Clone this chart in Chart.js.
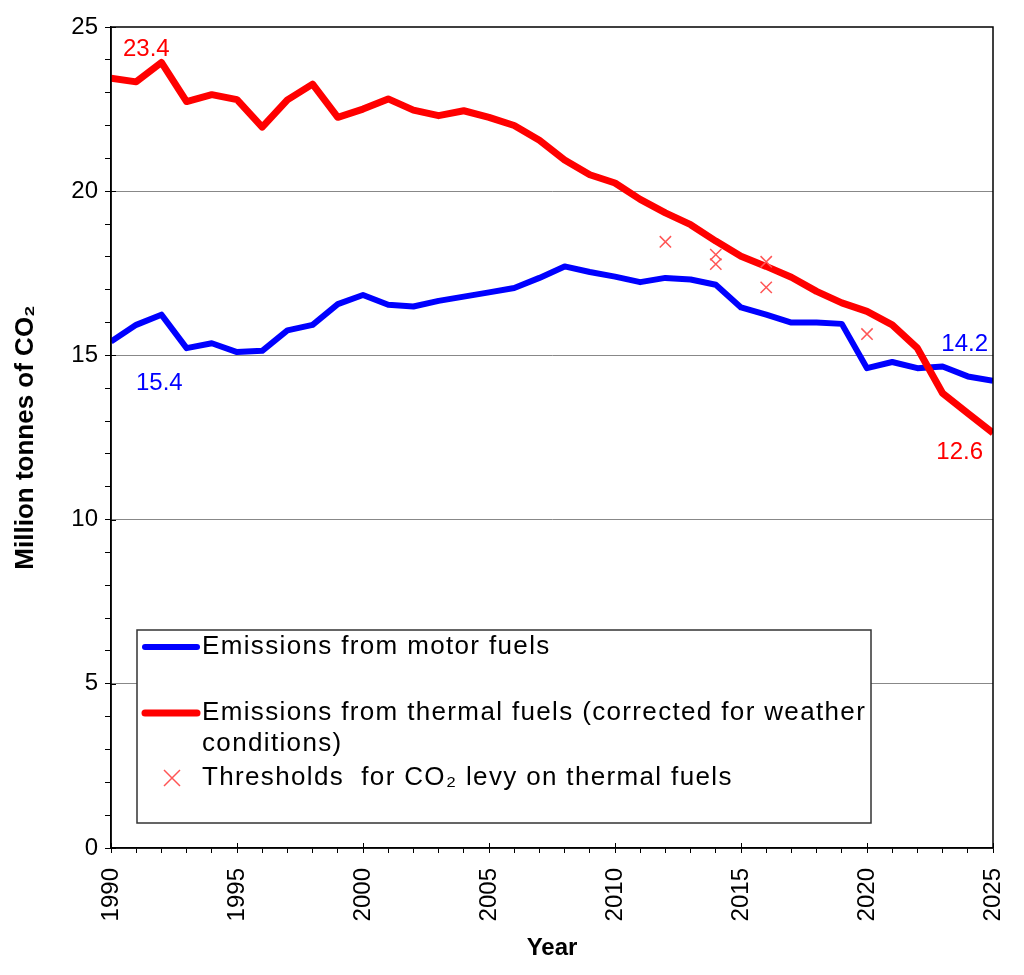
<!DOCTYPE html>
<html>
<head>
<meta charset="utf-8">
<script src="https://cdn.jsdelivr.net/npm/chart.js@4.4.1/dist/chart.umd.min.js"></script>
<style>
  body { margin: 0; background: #fff; }
  #wrap { width: 1024px; height: 975px; }
</style>
</head>
<body>
<div id="wrap"><canvas id="co2Chart" width="1024" height="975"></canvas></div>
<script>
const years = [1990, 1991, 1992, 1993, 1994, 1995, 1996, 1997, 1998, 1999,
  2000, 2001, 2002, 2003, 2004, 2005, 2006, 2007, 2008, 2009,
  2010, 2011, 2012, 2013, 2014, 2015, 2016, 2017, 2018, 2019,
  2020, 2021, 2022, 2023, 2024, 2025];

// motor fuels (blue)
const motorFuels = [15.42, 15.93, 16.24, 15.22, 15.37, 15.10, 15.14, 15.76, 15.93, 16.56,
  16.84, 16.54, 16.49, 16.66, 16.79, 16.92, 17.05, 17.36, 17.71, 17.54,
  17.40, 17.23, 17.36, 17.31, 17.15, 16.46, 16.24, 16.00, 16.00, 15.96,
  14.61, 14.80, 14.61, 14.66, 14.36, 14.23];

// thermal fuels, weather corrected (red)
const thermalFuels = [23.44, 23.33, 23.92, 22.73, 22.94, 22.79, 21.95, 22.78, 23.26, 22.25,
  22.50, 22.81, 22.47, 22.30, 22.45, 22.25, 22.00, 21.55, 20.95, 20.50,
  20.25, 19.75, 19.34, 18.98, 18.48, 18.02, 17.71, 17.38, 16.95, 16.60,
  16.34, 15.93, 15.22, 13.85, 13.24, 12.64];

const thresholdYears = [2012, 2014, 2014, 2016, 2016, 2020];
const thresholdValues = [18.46, 18.07, 17.78, 17.85, 17.07, 15.65];

const yTicks = [0, 5, 10, 15, 20, 25];
const xTicks = [1990, 1995, 2000, 2005, 2010, 2015, 2020, 2025];

const legendLabels = [
  "Emissions from motor fuels",
  "Emissions from thermal fuels (corrected for weather",
  "conditions)",
  "Thresholds  for CO\u2082 levy on thermal fuels"
];

const BLUE = "#0000ff";
const RED = "#ff0000";
const CROSS = "#ff5555";
const FONT = "'Liberation Sans', Arial, sans-serif";

function toPoints(xs, ys){
  return xs.map((x, i) => ({x: x, y: ys[i]}));
}

// frame, inner major ticks, end labels and the legend box
const extrasPlugin = {
  id: "extras",
  afterDraw(chart){
    const ctx = chart.ctx;
    const xs = chart.scales.x;
    const ys = chart.scales.y;
    const area = chart.chartArea;
    const last = years.length - 1;

    ctx.save();
    ctx.strokeStyle = "#000";
    ctx.lineWidth = 1.5;
    ctx.strokeRect(area.left, area.top, area.right - area.left, area.bottom - area.top);

    // major ticks also poke into the plot
    ctx.lineWidth = 1;
    ctx.beginPath();
    xTicks.forEach((v) => {
      const px = Math.round(xs.getPixelForValue(v)) + 0.5;
      ctx.moveTo(px, area.bottom);
      ctx.lineTo(px, area.bottom - 5);
    });
    yTicks.forEach((v) => {
      const py = Math.round(ys.getPixelForValue(v)) + 0.5;
      ctx.moveTo(area.left, py);
      ctx.lineTo(area.left + 5, py);
    });
    ctx.stroke();

    ctx.font = "24px " + FONT;
    ctx.textBaseline = "alphabetic";

    ctx.fillStyle = RED;
    ctx.textAlign = "left";
    ctx.fillText(thermalFuels[0].toFixed(1), xs.getPixelForValue(years[0]) + 12, ys.getPixelForValue(thermalFuels[0]) - 22);
    ctx.textAlign = "right";
    ctx.fillText(thermalFuels[last].toFixed(1), xs.getPixelForValue(years[last]) - 10, ys.getPixelForValue(thermalFuels[last]) + 26);

    ctx.fillStyle = BLUE;
    ctx.textAlign = "left";
    ctx.fillText(motorFuels[0].toFixed(1), xs.getPixelForValue(years[0]) + 25, ys.getPixelForValue(motorFuels[0]) + 48);
    ctx.textAlign = "right";
    ctx.fillText(motorFuels[last].toFixed(1), xs.getPixelForValue(years[last]) - 5, ys.getPixelForValue(motorFuels[last]) - 30);

    // legend
    const bx = 137, by = 630, bw = 734, bh = 193;
    ctx.fillStyle = "#fff";
    ctx.fillRect(bx, by, bw, bh);
    ctx.strokeStyle = "#333";
    ctx.lineWidth = 1.5;
    ctx.strokeRect(bx, by, bw, bh);

    ctx.lineCap = "round";
    ctx.lineWidth = 6;
    ctx.strokeStyle = BLUE;
    ctx.beginPath(); ctx.moveTo(145, 647); ctx.lineTo(197, 647); ctx.stroke();
    ctx.strokeStyle = RED;
    ctx.lineWidth = 7;
    ctx.beginPath(); ctx.moveTo(145, 713); ctx.lineTo(197, 713); ctx.stroke();

    ctx.lineCap = "butt";
    ctx.lineWidth = 1.5;
    ctx.strokeStyle = CROSS;
    ctx.beginPath();
    ctx.moveTo(164, 770); ctx.lineTo(180, 786);
    ctx.moveTo(180, 770); ctx.lineTo(164, 786);
    ctx.stroke();

    ctx.fillStyle = "#000";
    ctx.textAlign = "left";
    ctx.textBaseline = "middle";
    ctx.font = "26px " + FONT;
    ctx.letterSpacing = "1.35px";
    ctx.fillText(legendLabels[0], 202, 647);
    ctx.fillText(legendLabels[1], 202, 713);
    ctx.fillText(legendLabels[2], 202, 744);
    ctx.fillText(legendLabels[3], 202, 778);
    ctx.letterSpacing = "0px";
    ctx.restore();
  }
};

new Chart("co2Chart", {
  type: "line",
  data: {
    datasets: [
      {
        label: legendLabels[0],
        data: toPoints(years, motorFuels),
        borderColor: BLUE,
        borderWidth: 6,
        pointRadius: 0,
        tension: 0,
        borderJoinStyle: "round",
        order: 2
      },
      {
        label: "Emissions from thermal fuels (corrected for weather conditions)",
        data: toPoints(years, thermalFuels),
        borderColor: RED,
        borderWidth: 7,
        pointRadius: 0,
        tension: 0,
        borderJoinStyle: "round",
        order: 1
      },
      {
        type: "scatter",
        label: legendLabels[3],
        data: toPoints(thresholdYears, thresholdValues),
        pointStyle: "crossRot",
        pointRadius: 8,
        borderColor: CROSS,
        borderWidth: 1.5,
        showLine: false,
        order: 0
      }
    ]
  },
  options: {
    responsive: false,
    animation: false,
    devicePixelRatio: 1,
    layout: { padding: { left: 0, right: 31, top: 27, bottom: 0 } },
    plugins: {
      legend: { display: false },
      tooltip: { enabled: false }
    },
    scales: {
      x: {
        type: "linear",
        min: 1990,
        max: 2025,
        afterFit(scale){
          scale.height = 127;
          scale.paddingLeft = 0;
          scale.paddingRight = 0;
        },
        ticks: {
          stepSize: 1,
          autoSkip: false,
          maxRotation: 90,
          minRotation: 90,
          padding: 15,
          color: "#000",
          font: { family: FONT, size: 24 },
          callback: (v) => (xTicks.includes(v) ? String(v) : "")
        },
        grid: {
          drawOnChartArea: false,
          tickLength: 5,
          tickColor: "#000",
          tickWidth: 1
        },
        border: { display: true, color: "#000", width: 1.5 },
        title: {
          display: true,
          text: "Year",
          color: "#000",
          padding: { top: 12, bottom: 12 },
          font: { family: FONT, size: 24, weight: "bold" }
        }
      },
      y: {
        min: 0,
        max: 25,
        afterFit(scale){
          scale.width = 111;
          scale.paddingTop = 0;
          scale.paddingBottom = 0;
        },
        ticks: {
          stepSize: 1,
          autoSkip: false,
          padding: 7,
          color: "#000",
          font: { family: FONT, size: 24 },
          callback: (v) => (yTicks.includes(v) ? String(v) : "")
        },
        grid: {
          color: (c) => (c.tick && c.tick.value % 5 === 0 && c.tick.value !== 0 && c.tick.value !== 25 ? "#888" : "rgba(0,0,0,0)"),
          lineWidth: 1,
          tickLength: 6,
          tickColor: "#000",
          tickWidth: 1
        },
        border: { display: true, color: "#000", width: 1.5 },
        title: {
          display: true,
          text: "Million tonnes of CO\u2082",
          color: "#000",
          padding: { top: 10, bottom: 4 },
          font: { family: FONT, size: 26, weight: "bold" }
        }
      }
    }
  },
  plugins: [extrasPlugin]
});
</script>
</body>
</html>
